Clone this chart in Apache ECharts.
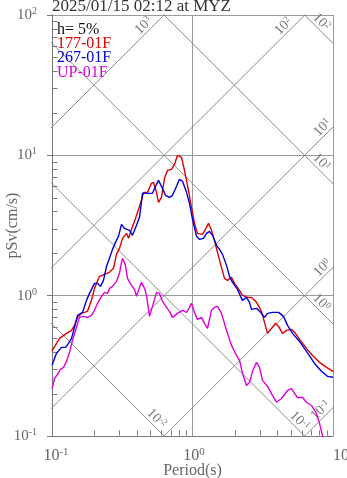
<!DOCTYPE html>
<html>
<head>
<meta charset="utf-8">
<script src="https://cdn.jsdelivr.net/npm/echarts@6/dist/echarts.min.js"></script>
<style>
  html, body { margin: 0; padding: 0; background: #fff; }
  #chart { width: 347px; height: 478px; }
</style>
</head>
<body>
<div id="chart"></div>
<script>
// Pseudo-velocity response spectra (h = 5%), tripartite log-log plot.
const titleText = '2025/01/15 02:12 at MYZ';
const dampingText = 'h= 5%';
const seriesNames = ['177-01F', '267-01F', 'UP-01F'];

const xTicks = [0.1, 1, 10];          // period (s)
const yTicks = [0.1, 1, 10, 100];     // pSv (cm/s)

// 177-01F component
const period177 = [0.100, 0.1131, 0.1268, 0.1377, 0.1446, 0.1519, 0.1622, 0.1789, 0.1910, 0.2007,
  0.2178, 0.2364, 0.2566, 0.2740, 0.2877, 0.3022, 0.3175, 0.3390, 0.3503, 0.3680,
  0.3865, 0.4060, 0.4335, 0.4479, 0.4783, 0.5107, 0.5278, 0.5544, 0.5728, 0.6017,
  0.6320, 0.6639, 0.7089, 0.7447, 0.7822, 0.8082, 0.8352, 0.8772, 0.9213, 0.9837,
  1.033, 1.085, 1.178, 1.258, 1.300, 1.365, 1.434, 1.506, 1.608, 1.690,
  1.775, 1.895, 1.990, 2.161, 2.270, 2.463, 2.630, 2.855, 3.098, 3.254,
  3.419, 3.650, 3.896, 4.094, 4.372, 4.667, 5.067, 5.409, 5.775, 6.477,
  7.147, 8.015, 8.990, 10.0];
const sv177 = [0.404, 0.496, 0.539, 0.566, 0.614, 0.700, 0.748, 0.773, 0.926, 1.127,
  1.373, 1.419, 1.466, 1.565, 1.969, 2.174, 2.561, 2.780, 2.561, 2.969,
  3.385, 3.924, 4.778, 5.449, 5.449, 6.316, 6.420, 5.449, 4.624, 5.020,
  6.857, 7.818, 7.947, 8.628, 10.00, 10.33, 9.676, 7.818, 6.112, 4.260,
  3.276, 2.780, 2.735, 3.068, 3.276, 2.921, 2.479, 2.035, 1.591, 1.328,
  1.286, 1.350, 1.224, 1.091, 1.005, 0.972, 0.972, 0.896, 0.773, 0.645,
  0.539, 0.585, 0.635, 0.604, 0.539, 0.566, 0.575, 0.539, 0.488, 0.421,
  0.375, 0.335, 0.308, 0.289];

// 267-01F component
const period267 = [0.100, 0.1076, 0.1168, 0.1248, 0.1311, 0.1377, 0.1446, 0.1519, 0.1569, 0.1649,
  0.1760, 0.1848, 0.1942, 0.2007, 0.2108, 0.2214, 0.2325, 0.2443, 0.2566, 0.2695,
  0.2831, 0.2973, 0.3123, 0.3281, 0.3561, 0.3741, 0.3994, 0.4195, 0.4406, 0.4783,
  0.5192, 0.5544, 0.5728, 0.6017, 0.6424, 0.6860, 0.7207, 0.7695, 0.8082, 0.8489,
  0.9064, 0.9520, 1.000, 1.068, 1.121, 1.198, 1.258, 1.321, 1.388, 1.482,
  1.556, 1.635, 1.746, 1.834, 1.926, 2.091, 2.196, 2.270, 2.423, 2.545,
  2.630, 2.855, 3.098, 3.254, 3.419, 3.710, 4.094, 4.444, 4.746, 5.150,
  5.775, 6.477, 7.386, 8.283, 9.140, 10.0];
const sv267 = [0.319, 0.388, 0.428, 0.428, 0.457, 0.496, 0.594, 0.724, 0.748, 0.760,
  0.926, 1.038, 1.146, 1.224, 1.224, 1.165, 1.286, 1.618, 1.845, 2.138,
  2.398, 2.647, 3.222, 3.018, 2.921, 2.690, 3.170, 3.615, 5.360, 5.360,
  5.360, 6.213, 6.635, 6.013, 5.187, 5.020, 5.187, 6.013, 6.745, 6.527,
  5.449, 4.549, 3.498, 2.647, 2.519, 2.561, 2.780, 2.873, 2.690, 2.283,
  2.138, 1.969, 1.644, 1.373, 1.244, 1.109, 0.989, 0.926, 0.972, 0.896,
  0.799, 0.812, 0.748, 0.700, 0.748, 0.760, 0.760, 0.712, 0.614, 0.539,
  0.472, 0.401, 0.329, 0.289, 0.266, 0.262];

// UP-01F component
const periodUP = [0.100, 0.1042, 0.1094, 0.1149, 0.1207, 0.1268, 0.1332, 0.1399, 0.1494, 0.1569,
  0.1676, 0.1789, 0.1910, 0.2007, 0.2108, 0.2251, 0.2364, 0.2483, 0.2566, 0.2695,
  0.2877, 0.3022, 0.3123, 0.3175, 0.3335, 0.3446, 0.3680, 0.3865, 0.3994, 0.4195,
  0.4335, 0.4554, 0.4706, 0.4943, 0.5192, 0.5544, 0.5823, 0.6116, 0.6530, 0.6860,
  0.7207, 0.7822, 0.8489, 0.9064, 0.9520, 0.9837, 1.033, 1.085, 1.159, 1.217,
  1.279, 1.365, 1.434, 1.506, 1.608, 1.746, 1.895, 2.057, 2.161, 2.270,
  2.423, 2.545, 2.673, 2.855, 2.999, 3.149, 3.419, 3.710, 3.962, 4.300,
  4.746, 5.067, 5.321, 5.589, 6.066, 6.477, 7.031, 7.631, 8.015, 8.418,
  8.990];
const svUP = [0.218, 0.257, 0.275, 0.298, 0.308, 0.340, 0.394, 0.480, 0.594, 0.700,
  0.712, 0.700, 0.724, 0.786, 0.882, 0.989, 1.056, 1.038, 1.127, 1.165,
  1.265, 1.442, 1.727, 1.845, 1.644, 1.328, 1.184, 1.109, 0.989, 1.146,
  1.244, 1.127, 1.005, 0.712, 0.839, 1.056, 1.038, 0.911, 0.825, 0.773,
  0.700, 0.748, 0.786, 0.760, 0.825, 0.882, 0.760, 0.678, 0.700, 0.635,
  0.585, 0.786, 0.825, 0.839, 0.748, 0.566, 0.442, 0.375, 0.346, 0.279,
  0.229, 0.241, 0.289, 0.335, 0.308, 0.249, 0.226, 0.195, 0.174, 0.185,
  0.211, 0.218, 0.201, 0.188, 0.188, 0.174, 0.165, 0.145, 0.123, 0.101,
  0.0764];

// Tripartite guide levels
const accelLevels = [0.1, 1, 10, 100, 1000];   // pSa (cm/s^2)
const dispLevels = [0.01, 0.1, 1, 10, 100];    // Sd (cm)

// ---------------------------------------------------------------------------
const FONT = '"Liberation Serif", "Times New Roman", serif';
const AXIS_TEXT = '#666';
const GUIDE = '#8c8c8c';
const colors = ['#dd0000', '#0000dd', '#dd00dd'];
const TWO_PI = 2 * Math.PI;
const xMin = xTicks[0], xMax = xTicks[xTicks.length - 1];
const yMin = yTicks[0], yMax = yTicks[yTicks.length - 1];

// where the level labels sit along their guide lines (period, s)
const accelLabelAt = [8.85, 9.14, 9.14, 4.82, 0.487];
const dispLabelAt = [0.511, 5.32, 7.63, 7.63, 7.63];

const exp10 = v => Math.round(Math.log10(v));
const pairs = (xs, ys) => xs.map((x, i) => [x, ys[i]]);

// guide lines: constant acceleration (Sv = A*T/2pi) and constant displacement (Sv = 2pi*D/T)
const guideT = [0.01, 1000];
const guideSeries = [];
accelLevels.forEach(a => guideSeries.push(guideT.map(t => [t, a * t / TWO_PI])));
dispLevels.forEach(d => guideSeries.push(guideT.map(t => [t, TWO_PI * d / t])));

const guideLabels = [];
accelLevels.forEach((a, i) => {
  const t = accelLabelAt[i];
  guideLabels.push({ value: [t, a * t / TWO_PI], exp: exp10(a), rot: Math.PI / 4 });
});
dispLevels.forEach((d, i) => {
  const t = dispLabelAt[i];
  guideLabels.push({ value: [t, TWO_PI * d / t], exp: exp10(d), rot: -Math.PI / 4 });
});

// log minor ticks (2..9 per decade)
const minorValues = (lo, hi) => {
  const out = [];
  for (let e = Math.round(Math.log10(lo)); e < Math.round(Math.log10(hi)); e++) {
    for (let m = 2; m <= 9; m++) out.push(m * Math.pow(10, e));
  }
  return out;
};
const yMinor = minorValues(yMin, yMax);
const xMinor = minorValues(xMin, xMax);

const richBase = (size, expSize) => ({
  b: { fontFamily: FONT, fontSize: size, color: AXIS_TEXT, lineHeight: size + 2 },
  e: { fontFamily: FONT, fontSize: expSize, color: AXIS_TEXT, lineHeight: expSize, verticalAlign: 'top' },
  p: { fontFamily: FONT, fontSize: size, color: AXIS_TEXT, lineHeight: size + 2 }
});

const chart = echarts.init(document.getElementById('chart'), null, { renderer: 'canvas' });

const series = [];
guideSeries.forEach(d => series.push({
  type: 'line', data: d, silent: true, showSymbol: false, symbol: 'none', clip: true,
  lineStyle: { color: GUIDE, width: 1 }, z: 1, animation: false
}));

series.push({
  type: 'custom', name: 'guideLabels', silent: true, clip: false, z: 2,
  data: guideLabels.map(g => g.value),
  renderItem: (params, api) => {
    const g = guideLabels[params.dataIndex];
    const p = api.coord([api.value(0), api.value(1)]);
    return {
      type: 'text', x: p[0], y: p[1], rotation: g.rot,
      style: {
        text: '{b|10}{e|' + g.exp + '}',
        align: 'center', verticalAlign: 'bottom',
        rich: {
          b: { fontFamily: FONT, fontSize: 14, fill: '#777', lineHeight: 14 },
          e: { fontFamily: FONT, fontSize: 9, fill: '#777', lineHeight: 9, verticalAlign: 'top' }
        }
      }
    };
  }
});

// minor ticks on the left and bottom axes
series.push({
  type: 'custom', name: 'yMinor', silent: true, clip: false, z: 4,
  data: yMinor.map(v => [xMin, v]),
  renderItem: (params, api) => {
    const p = api.coord([api.value(0), api.value(1)]);
    const x = Math.round(p[0]) + 0.5, y = Math.round(p[1]) + 0.5;
    return { type: 'line', shape: { x1: x, y1: y, x2: x + 5, y2: y }, style: { stroke: '#777', lineWidth: 1 } };
  }
});
series.push({
  type: 'custom', name: 'xMinor', silent: true, clip: false, z: 4,
  data: xMinor.map(v => [v, yMin]),
  renderItem: (params, api) => {
    const p = api.coord([api.value(0), api.value(1)]);
    const x = Math.round(p[0]) + 0.5, y = Math.round(p[1]) - 0.5;
    return { type: 'line', shape: { x1: x, y1: y, x2: x, y2: y - 5 }, style: { stroke: '#777', lineWidth: 1 } };
  }
});

[[period177, sv177], [period267, sv267], [periodUP, svUP]].forEach((s, i) => series.push({
  type: 'line', name: seriesNames[i], data: pairs(s[0], s[1]),
  showSymbol: false, symbol: 'none', clip: true, z: 5,
  lineStyle: { color: colors[i], width: 1.4 }, itemStyle: { color: colors[i] }
}));

chart.setOption({
  animation: false,
  backgroundColor: '#fff',
  title: {
    text: titleText, left: 52, top: -2, padding: 0,
    textStyle: { fontFamily: FONT, fontSize: 17, fontWeight: 'normal', color: '#333' }
  },
  legend: {
    orient: 'vertical', left: 52, top: 35.5, padding: 0, itemGap: -1.6,
    itemWidth: 0, itemHeight: 14, icon: 'none', selectedMode: false,
    data: seriesNames.map((n, i) => ({ name: n, textStyle: { color: colors[i] } })),
    textStyle: { fontFamily: FONT, fontSize: 16, lineHeight: 14 }
  },
  graphic: [{
    type: 'text', left: 57, top: 22,
    style: { text: dampingText, font: '16px ' + FONT, fill: '#111' }
  }],
  grid: { left: 52, top: 15, width: 281, height: 421, containLabel: false, outerBoundsMode: 'none' },
  xAxis: {
    type: 'log', logBase: 10, min: xMin, max: xMax,
    name: 'Period(s)', nameLocation: 'middle', nameGap: 27, nameMoveOverlap: false,
    nameTextStyle: { fontFamily: FONT, fontSize: 16, color: AXIS_TEXT },
    axisLine: { show: true, lineStyle: { color: '#777' } },
    axisTick: { show: false },
    splitLine: { show: true, lineStyle: { color: '#9a9a9a' } },
    axisLabel: {
      margin: 11, alignMaxLabel: 'left',
      formatter: v => {
        const e = exp10(v);
        if (e === exp10(xMax)) return '{b|10}{e|' + e + '}';
        // pad on the left so the "10" stays centred on the tick
        return '{p|' + (e < 0 ? '\u2007' : '\u2009') + '}{b|10}{e|' + e + '}';
      },
      rich: richBase(16, 11)
    }
  },
  yAxis: {
    type: 'log', logBase: 10, min: yMin, max: yMax,
    name: 'pSv(cm/s)', nameLocation: 'middle', nameGap: 31, nameRotate: 90, nameMoveOverlap: false,
    nameTextStyle: { fontFamily: FONT, fontSize: 16, color: AXIS_TEXT },
    axisLine: { show: true, lineStyle: { color: '#777' } },
    axisTick: { show: true, length: 5, lineStyle: { color: '#777' } },
    splitLine: { show: true, lineStyle: { color: '#9a9a9a' } },
    axisLabel: {
      margin: 15,
      formatter: v => '{b|10}{e|' + exp10(v) + '}',
      rich: richBase(15, 10)
    }
  },
  series: series
});
</script>
</body>
</html>
